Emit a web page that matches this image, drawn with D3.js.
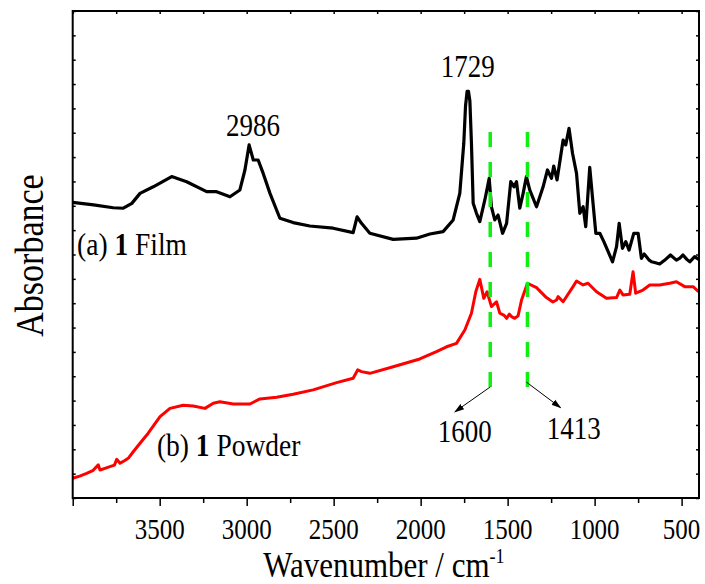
<!DOCTYPE html>
<html>
<head>
<meta charset="utf-8">
<script src="https://cdnjs.cloudflare.com/ajax/libs/d3/7.8.5/d3.min.js"></script>
<style>
  body { margin: 0; background: #fff; }
  text { font-family: "Liberation Serif", "Times New Roman", serif; fill: #000; }
</style>
</head>
<body>
<div id="chart"></div>
<script>
const width = 705;
const height = 584;
const margin = { top: 11, right: 6, bottom: 86, left: 72.7 };

// spectrum (a): film (wavenumber, absorbance in arbitrary units)
const filmWavenumber = [4000, 3880, 3767, 3709, 3660, 3613, 3537, 3431, 3345, 3230, 3173, 3096, 3039, 3010, 2986, 2962, 2934, 2905, 2866, 2809,
  2733, 2637, 2503, 2388, 2365, 2340, 2292, 2158, 2024, 1947, 1871, 1813, 1775, 1752, 1742, 1733, 1725, 1717, 1708, 1698, 1679, 1660,
  1631, 1606, 1593, 1574, 1555, 1529, 1506, 1482, 1463, 1449, 1430, 1411, 1392, 1373, 1334, 1296, 1271, 1248, 1235, 1216,
  1181, 1166, 1147, 1127, 1104, 1085, 1066, 1051, 1028, 1009, 993, 970, 947, 897, 874, 859, 840, 821, 802, 775,
  750, 731, 715, 702, 688, 673, 650, 626, 600, 564, 530, 510, 492, 470, 453, 425, 402];
const filmAbsorbance = [12.14, 12.04, 11.92, 11.90, 12.10, 12.51, 12.78, 13.20, 12.99, 12.58, 12.58, 12.37, 12.65, 13.47, 14.50, 13.88, 13.88, 13.33, 12.51, 11.49,
  11.31, 11.17, 11.08, 10.90, 11.55, 11.28, 10.87, 10.62, 10.67, 10.84, 10.94, 11.42, 12.51, 14.57, 16.10, 16.70, 16.70, 16.30, 14.57, 12.10, 11.69, 11.35,
  12.24, 13.13, 11.96, 11.42, 11.62, 10.87, 11.28, 12.99, 12.78, 12.99, 11.90, 12.51, 13.20, 12.65, 11.96, 12.78, 13.47, 13.13, 13.63, 13.06,
  14.70, 14.50, 15.18, 14.16, 13.33, 11.69, 11.96, 11.14, 13.58, 12.10, 10.87, 10.87, 10.53, 9.70, 10.32, 11.28, 10.25, 10.53, 10.18, 10.87,
  10.87, 9.84, 10.02, 9.91, 9.78, 9.70, 9.66, 9.61, 9.75, 9.98, 9.77, 9.85, 9.98, 9.80, 9.70, 9.91, 9.80];

// spectrum (b): powder
const powderWavenumber = [4000, 3960, 3920, 3885, 3853, 3843, 3815, 3786, 3760, 3747, 3728, 3705, 3681, 3652, 3613, 3566, 3498, 3441, 3365, 3307,
  3240, 3192, 3154, 3077, 2981, 2924, 2828, 2733, 2618, 2483, 2388, 2362, 2340, 2292, 2158, 2005, 1909, 1851, 1794, 1746,
  1708, 1683, 1660, 1637, 1618, 1593, 1564, 1545, 1520, 1506, 1490, 1478, 1459, 1440, 1420, 1386, 1334, 1277, 1240, 1219,
  1210, 1181, 1124, 1104, 1066, 1038, 989, 932, 874, 855, 837, 798, 779, 764, 722, 683, 626, 568, 530, 482,
  434, 402];
const powderAbsorbance = [0.81, 0.90, 1.01, 1.12, 1.36, 1.15, 1.22, 1.29, 1.35, 1.59, 1.43, 1.52, 1.63, 1.90, 2.25, 2.66, 3.34, 3.68, 3.81, 3.78,
  3.68, 3.89, 3.95, 3.86, 3.86, 4.07, 4.14, 4.26, 4.44, 4.74, 4.92, 5.26, 5.19, 5.12, 5.39, 5.71, 6.01, 6.21, 6.35, 6.90,
  7.59, 8.47, 8.98, 8.20, 8.47, 7.86, 8.06, 7.59, 7.50, 7.38, 7.55, 7.45, 7.38, 7.48, 8.13, 8.82, 8.64, 8.23, 8.05, 8.13,
  8.27, 8.06, 8.68, 8.91, 8.75, 8.82, 8.47, 8.20, 8.23, 8.54, 8.34, 8.37, 9.29, 8.41, 8.54, 8.75, 8.75, 8.82, 8.88, 8.68,
  8.68, 8.47];

const xMajorTicks = [4000, 3500, 3000, 2500, 2000, 1500, 1000, 500];
const xMinorTicks = [3750, 3250, 2750, 2250, 1750, 1250, 750];
const xTickLabels = ["3500", "3000", "2500", "2000", "1500", "1000", "500"];
const yTickCount = 20;

// peak labels: [text, wavenumber, absorbance]
const peakLabels = [["2986", 2964, 14.85], ["1729", 1729, 17.29], ["1600", 1746, 2.32], ["1413", 1120, 2.42]];
// green guide lines: [wavenumber, from, to]
const guideLines = [[1600, 15.03, 4.48], [1386, 15.03, 4.48]];
// arrows: [x1, y1, x2, y2] in data units
const arrows = [[1600, 4.56, 1803, 3.54], [1392, 4.76, 1196, 3.71]];
// series labels: [prefix, bold, suffix, wavenumber, absorbance]
const seriesLabels = [["(a) ", "1", " Film", 3975, 9.98], ["(b) ", "1", " Powder", 3516, 1.72]];

const stretch = 1.17;

const svg = d3.select("#chart").append("svg")
  .attr("width", width)
  .attr("height", height);

const x = d3.scaleLinear().domain([4000, 400]).range([margin.left, width - margin.right]);
const y = d3.scaleLinear().domain([0, yTickCount]).range([height - margin.bottom, margin.top]);

const defs = svg.append("defs");
defs.append("marker")
  .attr("id", "arrowhead")
  .attr("viewBox", "0 0 10 10")
  .attr("refX", 9).attr("refY", 5)
  .attr("markerWidth", 10).attr("markerHeight", 10)
  .attr("markerUnits", "userSpaceOnUse")
  .attr("orient", "auto")
  .append("path")
  .attr("d", "M0,1.8L10,5L0,8.2Z")
  .attr("fill", "#000");

// curves
const line = d3.line()
  .x(d => x(d[0]))
  .y(d => y(d[1]));

svg.append("path")
  .datum(d3.zip(filmWavenumber, filmAbsorbance))
  .attr("d", line)
  .attr("fill", "none")
  .attr("stroke", "#000")
  .attr("stroke-width", 3.2)
  .attr("stroke-linejoin", "round");

svg.append("path")
  .datum(d3.zip(powderWavenumber, powderAbsorbance))
  .attr("d", line)
  .attr("fill", "none")
  .attr("stroke", "#ff0000")
  .attr("stroke-width", 3)
  .attr("stroke-linejoin", "round");

// dashed guides
svg.selectAll(".guide")
  .data(guideLines)
  .enter()
  .append("line")
  .attr("x1", d => x(d[0])).attr("x2", d => x(d[0]))
  .attr("y1", d => y(d[1])).attr("y2", d => y(d[2]))
  .attr("stroke", "#11ee11")
  .attr("stroke-width", 3.5)
  .attr("stroke-dasharray", "15,15");

svg.selectAll(".arrow")
  .data(arrows)
  .enter()
  .append("line")
  .attr("x1", d => x(d[0])).attr("y1", d => y(d[1]))
  .attr("x2", d => x(d[2])).attr("y2", d => y(d[3]))
  .attr("stroke", "#000")
  .attr("stroke-width", 1)
  .attr("marker-end", "url(#arrowhead)");

// frame and axes
const plotW = width - margin.right - margin.left;
const plotH = height - margin.bottom - margin.top;

const bottomAxis = svg.append("g").attr("transform", `translate(0,${height - margin.bottom})`);
bottomAxis.call(d3.axisBottom(x).tickValues(xMajorTicks).tickSize(8).tickFormat(""));
bottomAxis.append("g").call(d3.axisBottom(x).tickValues(xMinorTicks).tickSize(5).tickFormat(""));

const topAxis = svg.append("g").attr("transform", `translate(0,${margin.top})`);
topAxis.call(d3.axisBottom(x).tickValues(xMajorTicks.concat(xMinorTicks)).tickSize(3).tickFormat(""));

const yTicks = d3.range(0, yTickCount + 1);
svg.append("g").attr("transform", `translate(${margin.left},0)`)
  .call(d3.axisRight(y).tickValues(yTicks).tickSize(3).tickFormat(""));
svg.append("g").attr("transform", `translate(${width - margin.right},0)`)
  .call(d3.axisLeft(y).tickValues(yTicks).tickSize(3).tickFormat(""));

svg.selectAll(".domain").remove();
svg.selectAll(".tick line").attr("stroke", "#000").attr("stroke-width", 1.5);

svg.append("rect")
  .attr("x", margin.left).attr("y", margin.top)
  .attr("width", plotW).attr("height", plotH)
  .attr("fill", "none")
  .attr("stroke", "#000")
  .attr("stroke-width", 2);

// text helper with the vertical stretch of the original figure
function stretchedText(px, py, size, anchor) {
  return svg.append("g")
    .attr("transform", `translate(${px},${py}) scale(1,${stretch})`)
    .append("text")
    .attr("text-anchor", anchor)
    .style("font-size", size + "px");
}

xTickLabels.forEach(t => {
  stretchedText(x(+t), 539, 25, "middle").text(t);
});

peakLabels.forEach(p => {
  stretchedText(x(p[1]), y(p[2]), 27, "middle").text(p[0]);
});

seriesLabels.forEach(s => {
  const t = stretchedText(x(s[3]), y(s[4]), 27.5, "start");
  t.append("tspan").text(s[0]);
  t.append("tspan").style("font-weight", "bold").text(s[1]);
  t.append("tspan").text(s[2]);
});

const xTitle = stretchedText(margin.left + plotW / 2 - 2, 577, 31, "middle");
xTitle.append("tspan").text("Wavenumber / cm");
xTitle.append("tspan").attr("dy", -12).style("font-size", "18px").text("-1");

// y title: glyphs are taller across the reading direction, like the others
svg.append("g")
  .attr("transform", `translate(43,${margin.top + plotH / 2 + 1}) rotate(-90) scale(1,${stretch})`)
  .append("text")
  .attr("text-anchor", "middle")
  .style("font-size", "34px")
  .text("Absorbance");
</script>
</body>
</html>
